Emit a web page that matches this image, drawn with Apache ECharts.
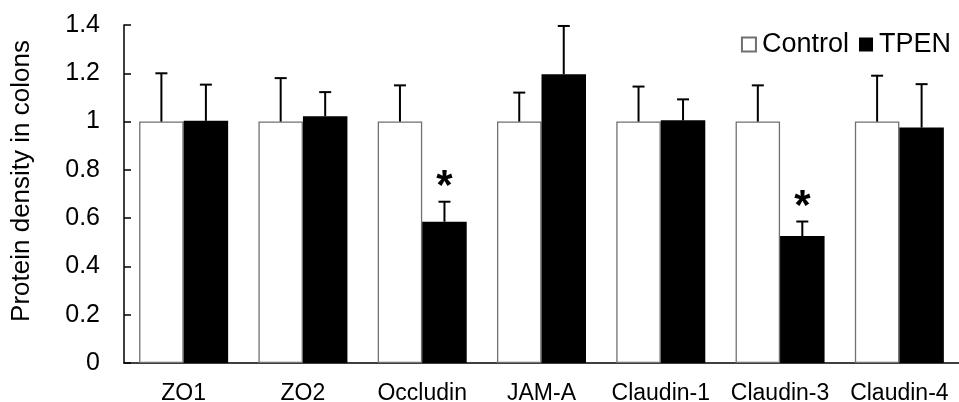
<!DOCTYPE html>
<html>
<head>
<meta charset="utf-8">
<script src="https://cdn.jsdelivr.net/npm/echarts@6/dist/echarts.min.js"></script>
<style>
html,body{margin:0;padding:0;background:#fff;}
#chart{width:959px;height:402px;}
</style>
</head>
<body>
<div id="chart"></div>
<script>
const categories = ['ZO1', 'ZO2', 'Occludin', 'JAM-A', 'Claudin-1', 'Claudin-3', 'Claudin-4'];
const controlValues = [1, 1, 1, 1, 1, 1, 1];
const controlErrors = [0.2, 0.18, 0.15, 0.12, 0.145, 0.15, 0.19];
const tpenValues = [1.003, 1.022, 0.585, 1.196, 1.005, 0.526, 0.975];
const tpenErrors = [0.15, 0.10, 0.083, 0.2, 0.087, 0.06, 0.18];
const tpenMarks = ['', '', '*', '', '', '*', ''];
const yTicks = [0, 0.2, 0.4, 0.6, 0.8, 1, 1.2, 1.4];

const FONT = 'Liberation Sans, Arial, sans-serif';
const BAR_W = 44.5;

const errData = [];
categories.forEach((c, i) => {
  errData.push([i, controlValues[i], controlValues[i] + controlErrors[i], -1, '']);
  errData.push([i, tpenValues[i], tpenValues[i] + tpenErrors[i], 1, tpenMarks[i]]);
});

const chart = echarts.init(document.getElementById('chart'));
chart.setOption({
  animation: false,
  textStyle: { fontFamily: FONT },
  grid: { left: 124, right: 0, top: 25, bottom: 39, containLabel: false, outerBoundsMode: 'none' },
  legend: {
    right: 3,
    top: 26,
    itemWidth: 14,
    itemHeight: 14,
    itemGap: 10,
    icon: 'rect',
    textStyle: { fontFamily: FONT, fontSize: 27, color: '#000', padding: [0, 0, 0, 1] },
    data: ['Control', 'TPEN']
  },
  graphic: [{
    type: 'text',
    x: 22,
    y: 181,
    rotation: Math.PI / 2,
    style: {
      text: 'Protein density in colons',
      font: '26px ' + FONT,
      fill: '#000',
      align: 'center',
      verticalAlign: 'middle'
    }
  }],
  xAxis: {
    type: 'category',
    data: categories,
    axisLine: { lineStyle: { color: '#000', width: 1.5 } },
    axisTick: { show: false },
    axisLabel: { color: '#000', fontSize: 23, margin: 19, fontFamily: FONT, interval: 0 }
  },
  yAxis: {
    type: 'value',
    min: 0,
    max: 1.4,
    interval: 0.2,
    axisLine: { show: true, lineStyle: { color: '#000', width: 1.5 } },
    axisTick: { show: true, inside: true, length: 7, lineStyle: { color: '#000', width: 1.5 } },
    splitLine: { show: false },
    axisLabel: {
      color: '#000', fontSize: 25, margin: 24, fontFamily: FONT,
      formatter: v => {
        const t = yTicks.find(k => Math.abs(k - v) < 1e-9);
        return String(t !== undefined ? t : v);
      }
    }
  },
  series: [
    {
      name: 'Control',
      type: 'bar',
      data: controlValues,
      barWidth: BAR_W,
      barGap: '0%',
      itemStyle: { color: '#fff', borderColor: '#707070', borderWidth: 1.3 }
    },
    {
      name: 'TPEN',
      type: 'bar',
      data: tpenValues,
      barWidth: BAR_W,
      barGap: '0%',
      itemStyle: { color: '#000', borderColor: '#000', borderWidth: 0 }
    },
    {
      type: 'custom',
      data: errData,
      z: 5,
      renderItem: (params, api) => {
        const idx = api.value(0);
        const side = api.value(3);
        const base = api.coord([idx, api.value(1)]);
        const top = api.coord([idx, api.value(2)]);
        const x = base[0] + side * BAR_W / 2;
        const cap = 6;
        const style = { stroke: '#000', lineWidth: 2 };
        const children = [
          { type: 'line', shape: { x1: x, y1: base[1], x2: x, y2: top[1] }, style },
          { type: 'line', shape: { x1: x - cap, y1: top[1], x2: x + cap, y2: top[1] }, style }
        ];
        const mark = errData[params.dataIndex][4];
        if (mark) {
          children.push({
            type: 'text',
            x: x,
            y: top[1] - 14,
            style: { text: mark, font: 'bold 42px ' + FONT, fill: '#000', align: 'center', verticalAlign: 'middle' }
          });
        }
        return { type: 'group', children };
      }
    }
  ]
});
</script>
</body>
</html>
